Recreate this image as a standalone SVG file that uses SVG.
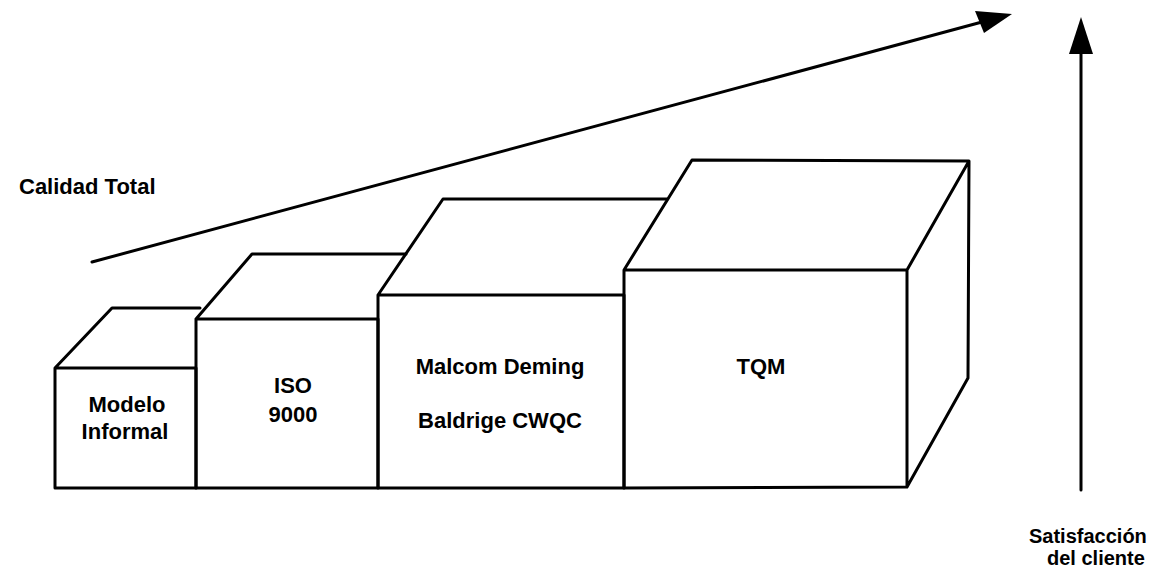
<svg xmlns="http://www.w3.org/2000/svg" width="1150" height="586" viewBox="0 0 1150 586">
  <style>
    .edge { fill: none; stroke: #000; stroke-width: 3; stroke-linejoin: round; stroke-linecap: round; }
    .lbl { font-family: "Liberation Sans", Arial, sans-serif; font-weight: bold; font-size: 22px; fill: #000; }
    .mid { text-anchor: middle; }
    .head { fill: #000; stroke: none; }
  </style>
  <rect width="1150" height="586" fill="#fff"/>

  <g id="box-modelo-informal">
    <path class="edge" d="M55,368 L112,308 L200,308 M55,368 L196,368 L196,488 L55,488 Z"/>
    <text class="lbl mid" x="127" y="412">Modelo</text>
    <text class="lbl mid" x="125" y="439">Informal</text>
  </g>

  <g id="box-iso-9000">
    <path class="edge" d="M196,319 L252,254 L406,254 M196,319 L378,319 L378,488 L196,488 Z"/>
    <text class="lbl mid" x="293" y="393">ISO</text>
    <text class="lbl mid" x="293" y="422">9000</text>
  </g>

  <g id="box-malcom-baldrige">
    <path class="edge" d="M378,295 L443,199 L667,199 M378,295 L624,295 L624,488 L378,488 Z"/>
    <text class="lbl mid" x="500" y="374">Malcom Deming</text>
    <text class="lbl mid" x="500" y="428">Baldrige CWQC</text>
  </g>

  <g id="box-tqm">
    <path class="edge" d="M624,270 L692,160 L969,161 L907,270 Z M624,270 L624,488 L907,487 L907,270 M969,161 L968,378 L907,487"/>
    <text class="lbl mid" x="761" y="374">TQM</text>
  </g>

  <g id="label-calidad-total">
    <text class="lbl" x="19" y="194">Calidad Total</text>
  </g>

  <g id="label-satisfaccion">
    <text class="lbl" x="1029" y="543" style="font-size:20px">Satisfacción</text>
    <text class="lbl" x="1047" y="565" style="font-size:20px">del cliente</text>
  </g>

  <g id="connectors">
    <line class="edge" x1="92" y1="262" x2="982" y2="22"/>
    <polygon class="head" points="1012,14 975,11 984,33"/>
    <line class="edge" x1="1081" y1="490" x2="1081" y2="52"/>
    <polygon class="head" points="1081,17 1069,54 1093,54"/>
  </g>
</svg>
